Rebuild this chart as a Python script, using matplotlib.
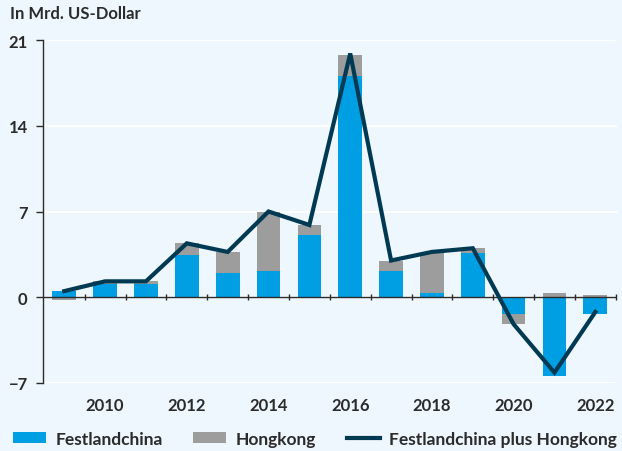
import matplotlib
matplotlib.use('Agg')
import matplotlib.pyplot as plt
import numpy as np
from matplotlib.patches import Patch
from matplotlib.lines import Line2D

years = [2009, 2010, 2011, 2012, 2013, 2014, 2015, 2016, 2017, 2018, 2019, 2020, 2021, 2022]
festland = [0.55, 1.1, 1.05, 3.45, 2.0, 2.15, 5.1, 18.05, 2.15, 0.35, 3.6, -1.4, -6.45, -1.35]
hongkong = [-0.2, 0.2, 0.25, 1.0, 1.7, 4.8, 0.8, 1.7, 0.8, 3.25, 0.4, -0.8, 0.35, 0.2]
gesamt = [0.5, 1.3, 1.3, 4.4, 3.7, 7.0, 5.9, 19.9, 3.0, 3.7, 4.0, -2.2, -6.15, -1.2]
yticks = [-7, 0, 7, 14, 21]
xlabels = [2010, 2012, 2014, 2016, 2018, 2020, 2022]

BG = '#EEF6FE'
BLUE = '#009FE3'
GREY = '#9D9D9D'
NAVY = '#003A52'
DARK = '#2B2B2B'

plt.rcParams['font.family'] = ['Lato', 'DejaVu Sans']
plt.rcParams['font.weight'] = 'bold'

fig = plt.figure(figsize=(6.22, 4.52), dpi=100, facecolor=BG)
ax = fig.add_axes([43/622, 1-384/452, (617-43)/622, (384-41)/452])
ax.set_facecolor(BG)

x = np.array(years, dtype=float)
f = np.array(festland)
h = np.array(hongkong)
w = 0.58

ax.bar(x, f, width=w, color=BLUE, zorder=2)
hb = np.where(h >= 0, np.where(f > 0, f, 0), np.where(f < 0, f, 0))
ax.bar(x, h, width=w, bottom=hb, color=GREY, zorder=2)
ax.plot(x, gesamt, color=NAVY, lw=3, zorder=4, solid_joinstyle='miter')

ax.set_xlim(years[0]-0.52, years[-1]+0.53)
ax.set_ylim(-7, 21)
ax.set_yticks(yticks)
ax.set_yticklabels([str(t).replace('-', '\u2212') for t in yticks])
ax.yaxis.grid(True, color='white', lw=1.3, zorder=0)
ax.set_axisbelow(True)

for s in ['top', 'right', 'bottom']:
    ax.spines[s].set_visible(False)
ax.spines['left'].set_color(DARK)
ax.spines['left'].set_linewidth(1.0)
ax.tick_params(axis='y', length=5, width=1, color=DARK, pad=6, labelsize=12, labelcolor=DARK)

ax.set_xticks(xlabels)
ax.set_xticklabels([str(v) for v in xlabels])
ax.tick_params(axis='x', length=0, pad=10, labelsize=12, labelcolor=DARK)

# zero line with boundary ticks
ax.axhline(0, color=DARK, lw=1.0, zorder=3)
bounds = x + 0.5
ax.plot(bounds, np.zeros_like(bounds), ls='none', marker='|', ms=5, mew=1, color=DARK, zorder=3, clip_on=False)

fig.text(10/622, 1-14/452, 'In Mrd. US-Dollar', fontsize=12, fontweight='bold', color=DARK, va='center', ha='left')

handles = [Patch(facecolor=BLUE, edgecolor='none'), Patch(facecolor=GREY, edgecolor='none'),
           Line2D([], [], color=NAVY, lw=3)]
labels = ['Festlandchina', 'Hongkong', 'Festlandchina plus Hongkong']
fig.legend(handles, labels, loc='center left', bbox_to_anchor=(13/622, 1-440/452), ncol=3,
           frameon=False, fontsize=12.5, handlelength=1.9, handleheight=0.6, handletextpad=0.55,
           columnspacing=1.75, borderaxespad=0, borderpad=0, labelcolor=DARK)

fig.savefig('out.png', dpi=100, facecolor=BG)
